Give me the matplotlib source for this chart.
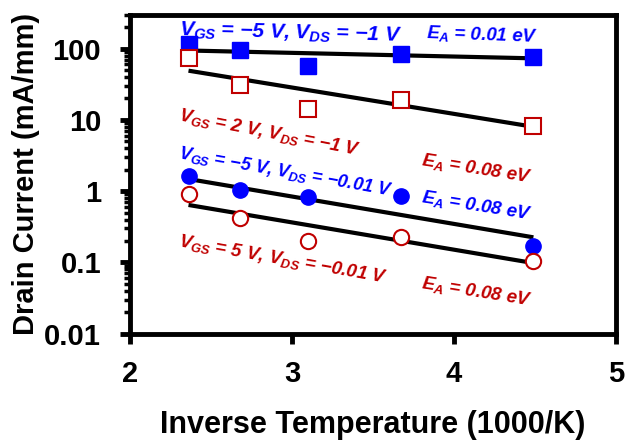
import numpy as np
import matplotlib.pyplot as plt
from matplotlib.ticker import LogLocator, NullFormatter, FixedLocator

plt.rcParams['font.family'] = ['Liberation Sans', 'DejaVu Sans']
plt.rcParams['font.weight'] = 'bold'
plt.rcParams['mathtext.fontset'] = 'custom'
plt.rcParams['mathtext.it'] = 'Liberation Sans:bold:italic'
plt.rcParams['mathtext.rm'] = 'Liberation Sans:bold'
plt.rcParams['mathtext.bf'] = 'Liberation Sans:bold'

blue = '#0000FF'
red = '#C00000'

# inverse temperature (1000/K)
inv_t = [2.36, 2.68, 3.10, 3.67, 4.49]

# drain current (mA/mm)
sq_blue = [115, 95, 57, 85, 77]      # VGS=-5 V, VDS=-1 V
sq_red = [75, 31, 14, 19, 8.2]       # VGS=2 V, VDS=-1 V
ci_blue = [1.65, 1.05, 0.84, 0.85, 0.17]   # VGS=-5 V, VDS=-0.01 V
ci_red = [0.91, 0.42, 0.20, 0.23, 0.105]   # VGS=5 V, VDS=-0.01 V

# Arrhenius fit lines, values at first and last temperature
fit_x = [2.36, 4.49]
fit_sq_blue = [94, 73]
fit_sq_red = [49, 8.0]
fit_ci_blue = [1.48, 0.225]
fit_ci_red = [0.64, 0.098]

fig = plt.figure(figsize=(6.26, 4.42), dpi=100)
ax = fig.add_axes([0.208, 0.245, 0.776, 0.722])

for fy in [fit_sq_blue, fit_sq_red, fit_ci_blue, fit_ci_red]:
    ax.plot(fit_x, fy, color='black', lw=3, solid_capstyle='butt', zorder=2)

ax.plot(inv_t, sq_blue, 's', color=blue, ms=11, zorder=3)
ax.plot(inv_t, sq_red, 's', mfc='white', mec=red, mew=1.5, ms=11, zorder=3)
ax.plot(inv_t, ci_blue, 'o', color=blue, ms=11, zorder=3)
ax.plot(inv_t, ci_red, 'o', mfc='white', mec=red, mew=1.5, ms=11, zorder=3)

ax.set_yscale('log')
ax.set_xlim(2, 5)
ax.set_ylim(0.01, 300)
ax.xaxis.set_major_locator(FixedLocator([2, 3, 4, 5]))
ax.yaxis.set_major_locator(FixedLocator([0.01, 0.1, 1, 10, 100]))
ax.yaxis.set_minor_locator(LogLocator(base=10, subs=np.arange(2, 10)))
ax.yaxis.set_minor_formatter(NullFormatter())
ax.set_yticklabels(['0.01', '0.1', '1', '10', '100'])

for s in ax.spines.values():
    s.set_linewidth(3.5)
ax.tick_params(axis='both', which='major', direction='out', length=7, width=3.5,
               labelsize=21)
ax.tick_params(axis='y', which='minor', direction='out', length=4, width=2.5)
ax.tick_params(axis='y', which='major', pad=14)
ax.tick_params(axis='x', which='major', pad=12)

ax.set_xlabel('Inverse Temperature (1000/K)', fontsize=22, fontweight='bold', labelpad=16)
ax.set_ylabel('Drain Current (mA/mm)', fontsize=21, fontweight='bold', labelpad=3)

tk = dict(fontweight='bold', style='italic', transform=ax.transData,
          ha='left', va='center', rotation_mode='anchor')
ax.text(2.3, 180, r'$V_{GS}$ = −5 V, $V_{DS}$ = −1 V', color=blue, rotation=-1.5,
        fontsize=15.2, **tk)
ax.text(3.83, 165, r'$E_{A}$ = 0.01 eV', color=blue, rotation=-2, fontsize=13.5, **tk)
ax.text(2.3, 11.5, r'$V_{GS}$ = 2 V, $V_{DS}$ = −1 V', color=red, rotation=-11,
        fontsize=13.3, **tk)
ax.text(3.8, 2.7, r'$E_{A}$ = 0.08 eV', color=red, rotation=-9, fontsize=13.5, **tk)
ax.text(2.3, 3.4, r'$V_{GS}$ = −5 V, $V_{DS}$ = −0.01 V', color=blue, rotation=-10,
        fontsize=13.1, **tk)
ax.text(3.8, 0.82, r'$E_{A}$ = 0.08 eV', color=blue, rotation=-9, fontsize=13.5, **tk)
ax.text(2.3, 0.2, r'$V_{GS}$ = 5 V, $V_{DS}$ = −0.01 V', color=red, rotation=-10,
        fontsize=13.4, **tk)
ax.text(3.8, 0.052, r'$E_{A}$ = 0.08 eV', color=red, rotation=-9, fontsize=13.5, **tk)

fig.savefig('out.png', dpi=100)
